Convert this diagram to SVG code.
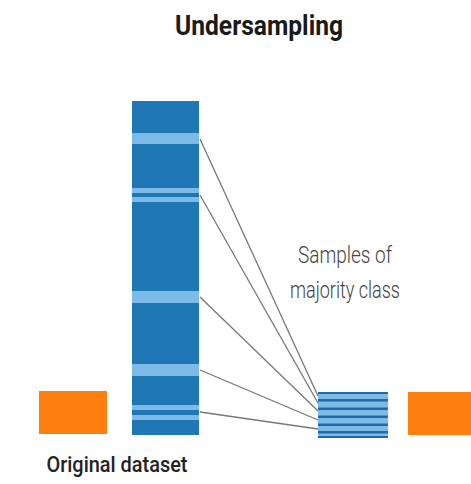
<svg xmlns="http://www.w3.org/2000/svg" width="471" height="484" viewBox="0 0 471 484">
<defs>
<style>
.title{font-family:Roboto,"Liberation Sans",sans-serif;font-weight:700;fill:#1a1a1a}
.lbl{font-family:Roboto,"Liberation Sans",sans-serif;font-weight:300;fill:#444}
.cap{font-family:Roboto,"Liberation Sans",sans-serif;font-weight:500;fill:#222}
.maj{fill:#1f77b4}
.light{fill:#7cbbe8}
.min{fill:#ff7f0e}
.conn{stroke:#777;stroke-width:1.3;fill:none}
.dk{fill:#2369a8}
</style>
</defs>
<rect width="471" height="484" fill="#fff"/>
<text class="title" x="259" y="35" font-size="28" text-anchor="middle" textLength="168" lengthAdjust="spacingAndGlyphs">Undersampling</text>
<g id="original-minority">
<rect class="min" x="39" y="391" width="68" height="43"/>
</g>
<g id="original-majority">
<rect class="maj" x="132" y="101" width="67" height="334"/>
<rect class="light" x="132" y="133" width="67" height="11"/>
<rect class="light" x="132" y="188" width="67" height="5"/>
<rect class="light" x="132" y="197" width="67" height="5"/>
<rect class="light" x="132" y="291" width="67" height="12"/>
<rect class="light" x="132" y="364" width="67" height="12"/>
<rect class="light" x="132" y="405" width="67" height="5"/>
<rect class="light" x="132" y="415" width="67" height="5"/>
</g>
<g id="sampled-majority">
<rect class="light" x="318" y="392" width="70" height="46"/>
<rect class="dk" x="318" y="392" width="70" height="2"/>
<rect class="dk" x="318" y="399" width="70" height="2.5"/>
<rect class="dk" x="318" y="407.5" width="70" height="2.5"/>
<rect class="dk" x="318" y="415.5" width="70" height="2.5"/>
<rect class="dk" x="318" y="423.5" width="70" height="2.5"/>
<rect class="dk" x="318" y="431" width="70" height="2.5"/>
<rect class="dk" x="318" y="436" width="70" height="2"/>
</g>
<g id="sampled-minority">
<rect class="min" x="408" y="392" width="63" height="43"/>
</g>
<g id="connectors">
<line class="conn" x1="200" y1="139" x2="318" y2="396"/>
<line class="conn" x1="200" y1="195" x2="318" y2="403"/>
<line class="conn" x1="200" y1="297" x2="318" y2="411"/>
<line class="conn" x1="200" y1="370" x2="318" y2="420"/>
<line class="conn" x1="200" y1="412" x2="318" y2="429"/>
</g>
<g id="labels">
<text class="lbl" x="345" y="263" font-size="24" text-anchor="middle" textLength="94" lengthAdjust="spacingAndGlyphs">Samples of</text>
<text class="lbl" x="345" y="298" font-size="24" text-anchor="middle" textLength="110" lengthAdjust="spacingAndGlyphs">majority class</text>
<text class="cap" x="117" y="472" font-size="22" text-anchor="middle" textLength="141" lengthAdjust="spacingAndGlyphs">Original dataset</text>
</g>
</svg>
